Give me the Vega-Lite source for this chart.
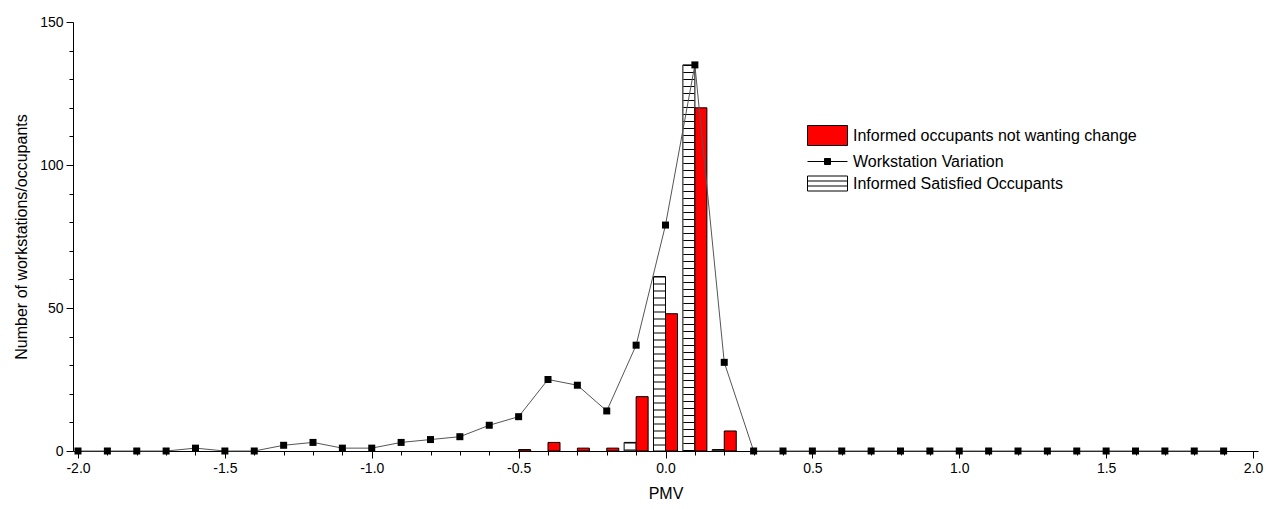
{
  "$schema": "https://vega.github.io/schema/vega-lite/v6.json",
  "width": 1185,
  "height": 429,
  "autosize": {"type": "none"},
  "padding": {"left": 73, "top": 22, "right": 20, "bottom": 58},
  "background": "white",
  "config": {
    "view": {"stroke": null},
    "font": "Liberation Sans",
    "axis": {
      "grid": false,
      "domainColor": "black",
      "tickColor": "black",
      "labelColor": "black",
      "titleColor": "black",
      "labelFont": "Liberation Sans",
      "titleFont": "Liberation Sans",
      "labelFontSize": 14,
      "titleFontSize": 16,
      "titleFontWeight": "normal"
    }
  },
  "data": {
    "values": [
      {"pmv": -0.5, "series": "Informed occupants not wanting change", "value": 0.5},
      {"pmv": -0.4, "series": "Informed occupants not wanting change", "value": 3},
      {"pmv": -0.3, "series": "Informed occupants not wanting change", "value": 1},
      {"pmv": -0.2, "series": "Informed occupants not wanting change", "value": 1},
      {"pmv": -0.1, "series": "Informed occupants not wanting change", "value": 19},
      {"pmv": 0.0, "series": "Informed occupants not wanting change", "value": 48},
      {"pmv": 0.1, "series": "Informed occupants not wanting change", "value": 120},
      {"pmv": 0.2, "series": "Informed occupants not wanting change", "value": 7},
      {"pmv": -0.1, "series": "Informed Satisfied Occupants", "value": 3},
      {"pmv": 0.0, "series": "Informed Satisfied Occupants", "value": 61},
      {"pmv": 0.1, "series": "Informed Satisfied Occupants", "value": 135},
      {"pmv": 0.2, "series": "Informed Satisfied Occupants", "value": 0.5},
      {"pmv": -2.0, "series": "Workstation Variation", "value": 0},
      {"pmv": -1.9, "series": "Workstation Variation", "value": 0},
      {"pmv": -1.8, "series": "Workstation Variation", "value": 0},
      {"pmv": -1.7, "series": "Workstation Variation", "value": 0},
      {"pmv": -1.6, "series": "Workstation Variation", "value": 1},
      {"pmv": -1.5, "series": "Workstation Variation", "value": 0},
      {"pmv": -1.4, "series": "Workstation Variation", "value": 0},
      {"pmv": -1.3, "series": "Workstation Variation", "value": 2},
      {"pmv": -1.2, "series": "Workstation Variation", "value": 3},
      {"pmv": -1.1, "series": "Workstation Variation", "value": 1},
      {"pmv": -1.0, "series": "Workstation Variation", "value": 1},
      {"pmv": -0.9, "series": "Workstation Variation", "value": 3},
      {"pmv": -0.8, "series": "Workstation Variation", "value": 4},
      {"pmv": -0.7, "series": "Workstation Variation", "value": 5},
      {"pmv": -0.6, "series": "Workstation Variation", "value": 9},
      {"pmv": -0.5, "series": "Workstation Variation", "value": 12},
      {"pmv": -0.4, "series": "Workstation Variation", "value": 25},
      {"pmv": -0.3, "series": "Workstation Variation", "value": 23},
      {"pmv": -0.2, "series": "Workstation Variation", "value": 14},
      {"pmv": -0.1, "series": "Workstation Variation", "value": 37},
      {"pmv": 0.0, "series": "Workstation Variation", "value": 79},
      {"pmv": 0.1, "series": "Workstation Variation", "value": 135},
      {"pmv": 0.2, "series": "Workstation Variation", "value": 31},
      {"pmv": 0.3, "series": "Workstation Variation", "value": 0},
      {"pmv": 0.4, "series": "Workstation Variation", "value": 0},
      {"pmv": 0.5, "series": "Workstation Variation", "value": 0},
      {"pmv": 0.6, "series": "Workstation Variation", "value": 0},
      {"pmv": 0.7, "series": "Workstation Variation", "value": 0},
      {"pmv": 0.8, "series": "Workstation Variation", "value": 0},
      {"pmv": 0.9, "series": "Workstation Variation", "value": 0},
      {"pmv": 1.0, "series": "Workstation Variation", "value": 0},
      {"pmv": 1.1, "series": "Workstation Variation", "value": 0},
      {"pmv": 1.2, "series": "Workstation Variation", "value": 0},
      {"pmv": 1.3, "series": "Workstation Variation", "value": 0},
      {"pmv": 1.4, "series": "Workstation Variation", "value": 0},
      {"pmv": 1.5, "series": "Workstation Variation", "value": 0},
      {"pmv": 1.6, "series": "Workstation Variation", "value": 0},
      {"pmv": 1.7, "series": "Workstation Variation", "value": 0},
      {"pmv": 1.8, "series": "Workstation Variation", "value": 0},
      {"pmv": 1.9, "series": "Workstation Variation", "value": 0}
    ]
  },
  "layer": [
    {
      "transform": [{"filter": "datum.series === 'Informed Satisfied Occupants'"}],
      "mark": {"type": "bar", "width": 12, "xOffset": -6, "fill": "white", "stroke": "black", "strokeWidth": 1},
      "encoding": {
        "x": {
          "field": "pmv", "type": "quantitative",
          "scale": {"domain": [-2, 2], "nice": false, "zero": false},
          "axis": {
            "orient": "bottom", "title": "PMV", "tickCount": 500,
            "values": [-2,-1.9,-1.8,-1.7,-1.6,-1.5,-1.4,-1.3,-1.2,-1.1,-1,-0.9,-0.8,-0.7,-0.6,-0.5,-0.4,-0.3,-0.2,-0.1,0,0.1,0.2,0.3,0.4,0.5,0.6,0.7,0.8,0.9,1,1.1,1.2,1.3,1.4,1.5,1.6,1.7,1.8,1.9,2],
            "format": ".1f",
            "labelExpr": "abs(datum.value * 2 - round(datum.value * 2)) < 0.001 ? replace(datum.label, '\u2212', '-') : ''",
            "tickSize": {"condition": {"test": "abs(datum.value * 2 - round(datum.value * 2)) < 0.001", "value": 7}, "value": 4},
            "labelPadding": 3, "titlePadding": 10, "labelFlush": false, "labelOverlap": false
          }
        },
        "y": {
          "field": "value", "type": "quantitative", "stack": null,
          "scale": {"domain": [0, 150], "nice": false},
          "axis": {
            "orient": "left", "title": "Number of workstations/occupants", "tickCount": 500,
            "values": [0,10,20,30,40,50,60,70,80,90,100,110,120,130,140,150],
            "format": "d",
            "labelExpr": "datum.value % 50 === 0 ? datum.label : ''",
            "tickSize": {"condition": {"test": "datum.value % 50 === 0", "value": 7}, "value": 4},
            "labelPadding": 3, "titlePadding": 10, "labelFlush": false, "labelOverlap": false
          }
        }
      }
    },
    {
      "transform": [{"filter": "datum.series === 'Informed occupants not wanting change'"}],
      "mark": {"type": "bar", "width": 12, "xOffset": 6, "fill": "#ff0000", "stroke": "black", "strokeWidth": 1},
      "encoding": {
        "x": {"field": "pmv", "type": "quantitative", "scale": {"domain": [-2, 2], "nice": false, "zero": false}},
        "y": {"field": "value", "type": "quantitative", "stack": null, "scale": {"domain": [0, 150], "nice": false}}
      }
    },
    {
      "transform": [{"filter": "datum.series === 'Informed Satisfied Occupants'"}],
      "mark": {"type": "rule", "xOffset": -6, "color": "black", "strokeWidth": 11, "strokeDash": [1, 6], "strokeCap": "butt"},
      "encoding": {
        "x": {"field": "pmv", "type": "quantitative", "scale": {"domain": [-2, 2], "nice": false, "zero": false}},
        "y": {"field": "value", "type": "quantitative", "scale": {"domain": [0, 150], "nice": false}},
        "y2": {"datum": 0}
      }
    },
    {
      "transform": [{"filter": "datum.series === 'Workstation Variation'"}],
      "mark": {"type": "line", "color": "#555555", "strokeWidth": 1},
      "encoding": {
        "x": {"field": "pmv", "type": "quantitative", "scale": {"domain": [-2, 2], "nice": false, "zero": false}},
        "y": {"field": "value", "type": "quantitative", "scale": {"domain": [0, 150], "nice": false}}
      }
    },
    {
      "transform": [{"filter": "datum.series === 'Workstation Variation'"}],
      "mark": {"type": "point", "shape": "square", "filled": true, "color": "black", "size": 49, "opacity": 1},
      "encoding": {
        "x": {"field": "pmv", "type": "quantitative", "scale": {"domain": [-2, 2], "nice": false, "zero": false}},
        "y": {"field": "value", "type": "quantitative", "scale": {"domain": [0, 150], "nice": false}}
      }
    },
    {
      "mark": {"type": "point", "filled": true, "size": 0, "strokeWidth": 0},
      "encoding": {
        "x": {"field": "pmv", "type": "quantitative", "scale": {"domain": [-2, 2], "nice": false, "zero": false}},
        "y": {"field": "value", "type": "quantitative", "scale": {"domain": [0, 150], "nice": false}},
        "fill": {
          "field": "series", "type": "nominal",
          "scale": {"domain": ["Informed occupants not wanting change", "Workstation Variation", "Informed Satisfied Occupants"], "range": ["#ff0000", "black", "white"]},
          "legend": {
            "title": null, "orient": "none", "legendX": 744, "legendY": 103,
            "labelFont": "Liberation Sans", "labelFontSize": 16, "labelColor": "black", "labelLimit": 0,
            "symbolSize": 400, "symbolOpacity": 1,
            "labelOffset": 15, "rowPadding": 3, "padding": 0,
            "encode": {"symbols": {"update": {"stroke": {"value": "black"}, "strokeWidth": {"value": 1}, "opacity": {"value": 1}}}}
          }
        },
        "shape": {
          "field": "series", "type": "nominal",
          "scale": {"domain": ["Informed occupants not wanting change", "Workstation Variation", "Informed Satisfied Occupants"], "range": ["M-2,-1H2V1H-2Z", "M-2,0H2M-0.3,-0.3H0.3V0.3H-0.3Z", "M-2,-0.75H2V0.75H-2ZM-2,-0.25H2M-2,0.25H2"]},
          "legend": {
            "title": null, "orient": "none", "legendX": 744, "legendY": 103,
            "labelFont": "Liberation Sans", "labelFontSize": 16, "labelColor": "black", "labelLimit": 0,
            "symbolSize": 400, "symbolOpacity": 1,
            "labelOffset": 15, "rowPadding": 3, "padding": 0,
            "encode": {"symbols": {"update": {"stroke": {"value": "black"}, "strokeWidth": {"value": 1}, "opacity": {"value": 1}}}}
          }
        }
      }
    }
  ]
}
